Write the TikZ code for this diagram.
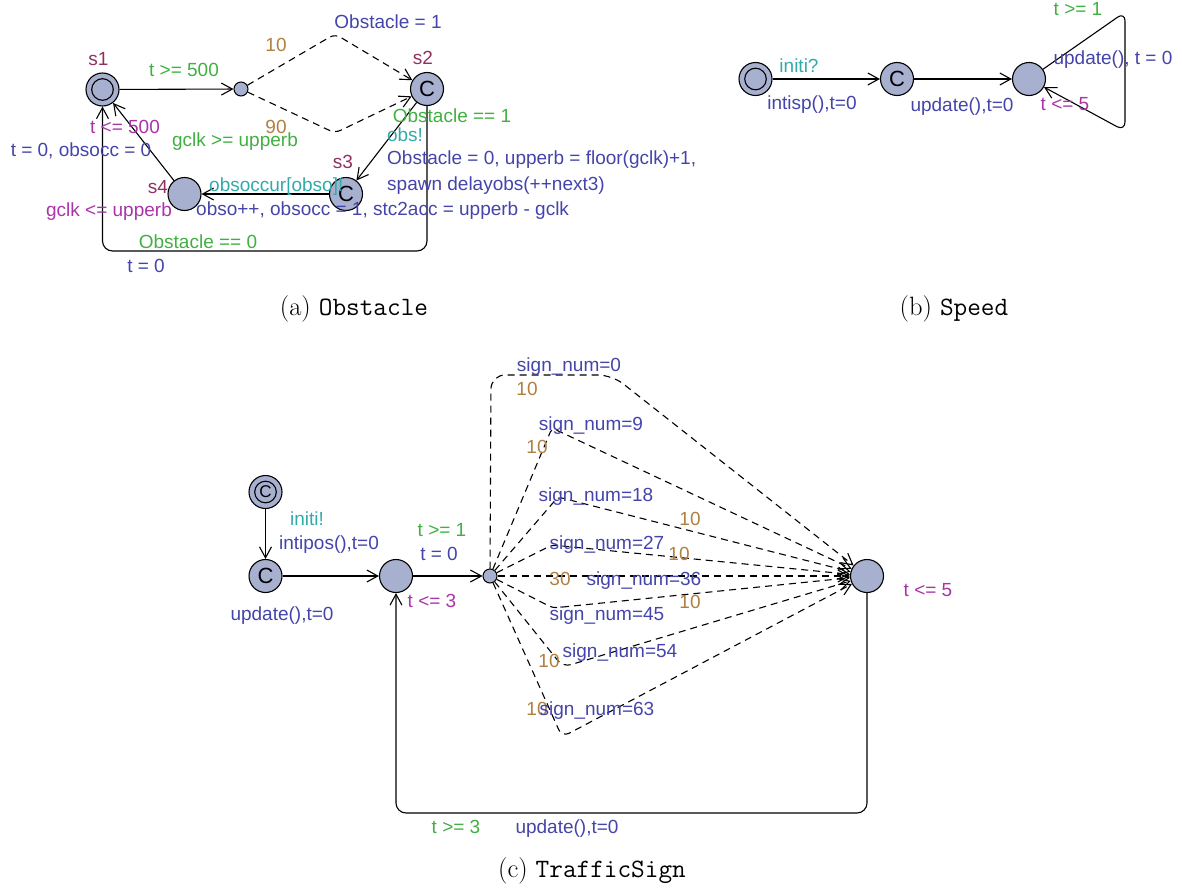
\documentclass[tikz,border=0pt]{standalone}
\usepackage{fontspec}
\newfontfamily\lab{Liberation Sans}
\usetikzlibrary{arrows.meta}
\definecolor{locfill}{RGB}{168,176,208}
\definecolor{cname}{RGB}{144,48,96}
\definecolor{cguard}{RGB}{64,176,64}
\definecolor{csync}{RGB}{51,170,170}
\definecolor{cupd}{RGB}{68,68,170}
\definecolor{cinv}{RGB}{170,51,170}
\definecolor{cprob}{RGB}{176,128,64}
\tikzset{
 loc/.style={circle, draw, fill=locfill, line width=1.1pt, minimum size=33pt, inner sep=0pt, font=\lab\fontsize{22}{24}\selectfont},
 bpt/.style={circle, draw, fill=locfill, line width=1pt, minimum size=14pt, inner sep=0pt},
 innerc/.style={line width=1.1pt},
 conn/.style={line width=1.1pt, -{Straight Barb[length=11pt,width=12pt]}},
 dconn/.style={conn, dash pattern=on 7pt off 5pt},
 lbl/.style={inner sep=0pt, font=\lab\fontsize{19}{22}\selectfont, text height=13.5pt, text depth=1.5pt},
 nmtxt/.style={lbl, text=cname}, gdtxt/.style={lbl, text=cguard}, sytxt/.style={lbl, text=csync},
 uptxt/.style={lbl, text=cupd}, ivtxt/.style={lbl, text=cinv}, prtxt/.style={lbl, text=cprob},
 captxt/.style={inner sep=0pt, font=\fontsize{26.5}{30}\selectfont}
}
\begin{document}
\begin{tikzpicture}[x=1pt, y=-1pt]
\useasboundingbox (0,0) rectangle (1182,891);
% ---------------- (a) Obstacle
\node[loc] (s1) at (102.5,89.5) {};
\draw[innerc] (s1.center) circle (10.8pt);
\node[bpt] (b1) at (241,89) {};
\node[loc] (s2) at (427,89) {C};
\node[loc] (s3) at (346,194) {C};
\node[loc] (s4) at (184.5,194) {};
\coordinate (a1) at (335,34);
\coordinate (a2) at (335,133);
\coordinate (a3) at (427,251);
\coordinate (a4) at (102.5,251);
\draw[conn] (s1) -- (b1);
\draw[dconn, rounded corners=6pt] (b1) -- (a1) -- (s2);
\draw[dconn, rounded corners=6pt] (b1) -- (a2) -- (s2);
\draw[conn] (s2) -- (s3);
\draw[conn] (s3) -- (s4);
\draw[conn] (s4) -- (s1);
\draw[conn, rounded corners=10pt] (s2) -- (a3) -- (a4) -- (s1);
\node[nmtxt] (ls1) at (98.5,59) {s1};
\node[nmtxt] (ls2) at (423,58) {s2};
\node[nmtxt] (ls3) at (343,162) {s3};
\node[nmtxt] (ls4) at (158,187) {s4};
\node[gdtxt] (ga1) at (184,70) {t >= 500};
\node[prtxt] (pa1) at (276,46) {10};
\node[uptxt] (ua1) at (388,23) {Obstacle = 1};
\node[prtxt] (pa2) at (276,127) {90};
\node[ivtxt] (ia1) at (125,127) {t <= 500};
\node[gdtxt] (ga2) at (235,140) {gclk >= upperb};
\node[uptxt] (ua2) at (81,150) {t = 0, obsocc = 0};
\node[ivtxt] (ia2) at (109,210) {gclk <= upperb};
\node[gdtxt] (ga3) at (452,116) {Obstacle == 1};
\node[sytxt] (sa1) at (405,135) {obs!};
\node[uptxt, anchor=west] (ua3) at (387,158) {Obstacle = 0, upperb = floor(gclk)+1,};
\node[uptxt, anchor=west] (ua4) at (387,184) {spawn delayobs(++next3)};
\node[sytxt, anchor=west] (sa2) at (209,185) {obsoccur[obso]!};
\node[uptxt, anchor=west] (ua5) at (196,209) {obso++, obsocc = 1, stc2acc = upperb - gclk};
\node[gdtxt] (ga4) at (198,242) {Obstacle == 0};
\node[uptxt] (ua6) at (146,266) {t = 0};
\node[captxt] (capa) at (354,309) {(a) \texttt{Obstacle}};
% ---------------- (b) Speed
\node[loc] (i0) at (755.5,79) {};
\draw[innerc] (i0.center) circle (10.8pt);
\node[loc] (bc) at (897,79) {C};
\node[loc] (n3) at (1029,79) {};
\coordinate (bl1) at (1125,12);
\coordinate (bl2) at (1125,131);
\draw[conn] (i0) -- (bc);
\draw[conn] (bc) -- (n3);
\draw[conn, rounded corners=9pt] (n3) -- (bl1) -- (bl2) -- (n3);
\node[sytxt] (sb1) at (799,67) {initi?};
\node[uptxt] (ub1) at (812,103) {intisp(),t=0};
\node[uptxt] (ub2) at (962,105) {update(),t=0};
\node[gdtxt] (gb1) at (1078,10) {t >= 1};
\node[uptxt] (ub3) at (1113,58) {update(), t = 0};
\node[ivtxt] (ib1) at (1065,104) {t <= 5};
\node[captxt] (capb) at (954,309) {(b) \texttt{Speed}};
% ---------------- (c) TrafficSign
\node[loc, font=\lab\fontsize{17}{20}\selectfont] (c0) at (265.5,492) {C};
\draw[innerc] (c0.center) circle (10.8pt);
\node[loc] (c1) at (265.5,576) {C};
\node[loc] (n1) at (396,576) {};
\node[bpt] (br) at (490,576) {};
\node[loc] (n2) at (867,576) {};
\coordinate (n2b) at (867,813);
\coordinate (n1b) at (396,813);
\coordinate (k0a) at (491,375);
\coordinate (k0b) at (612,375);
\coordinate (k1) at (552,428);
\coordinate (k2) at (558,497);
\coordinate (k3) at (552,545);
\coordinate (k5) at (553,608);
\coordinate (k6) at (563,667);
\coordinate (k7) at (562,737);
\draw[conn] (c0) -- (c1);
\draw[conn] (c1) -- (n1);
\draw[conn] (n1) -- (br);
\draw[conn, rounded corners=10pt] (n2) -- (n2b) -- (n1b) -- (n1);
\draw[dconn, rounded corners=14pt] (br) -- (k0a) -- (k0b) -- (n2);
\draw[dconn, rounded corners=4pt] (br) -- (k1) -- (n2);
\draw[dconn, rounded corners=4pt] (br) -- (k2) -- (n2);
\draw[dconn, rounded corners=4pt] (br) -- (k3) -- (n2);
\draw[dconn] (br) -- (n2);
\draw[dconn, rounded corners=4pt] (br) -- (k5) -- (n2);
\draw[dconn, rounded corners=8pt] (br) -- (k6) -- (n2);
\draw[dconn, rounded corners=8pt] (br) -- (k7) -- (n2);
\node[sytxt] (sc1) at (307,519) {initi!};
\node[uptxt] (uc1) at (329,543) {intipos(),t=0};
\node[uptxt] (uc2) at (282,614) {update(),t=0};
\node[gdtxt] (gc1) at (442,530) {t >= 1};
\node[uptxt] (uc3) at (439,554) {t = 0};
\node[ivtxt] (ic1) at (432,601) {t <= 3};
\node[ivtxt] (ic2) at (928,590) {t <= 5};
\node[gdtxt] (gc2) at (456,827) {t >= 3};
\node[uptxt] (uc4) at (567,827) {update(),t=0};
\node[uptxt] (q0) at (569,365) {sign\_num=0};
\node[prtxt] (r0) at (527,389) {10};
\node[uptxt] (q1) at (591,424) {sign\_num=9};
\node[prtxt] (r1) at (537,447) {10};
\node[uptxt] (q2) at (596,495) {sign\_num=18};
\node[prtxt] (r2) at (690,519) {10};
\node[uptxt] (q3) at (607,543) {sign\_num=27};
\node[prtxt] (r3) at (679,554) {10};
\node[prtxt] (r4) at (560,579) {30};
\node[uptxt] (q4) at (644,579) {sign\_num=36};
\node[prtxt] (r5) at (690,602) {10};
\node[uptxt] (q5) at (607,614) {sign\_num=45};
\node[uptxt] (q6) at (620,651) {sign\_num=54};
\node[prtxt] (r6) at (549,661) {10};
\node[prtxt] (r7) at (537,709) {10};
\node[uptxt] (q7) at (597,709) {sign\_num=63};
\node[captxt] (capc) at (592,871) {(c) \texttt{TrafficSign}};
\end{tikzpicture}
\end{document}
